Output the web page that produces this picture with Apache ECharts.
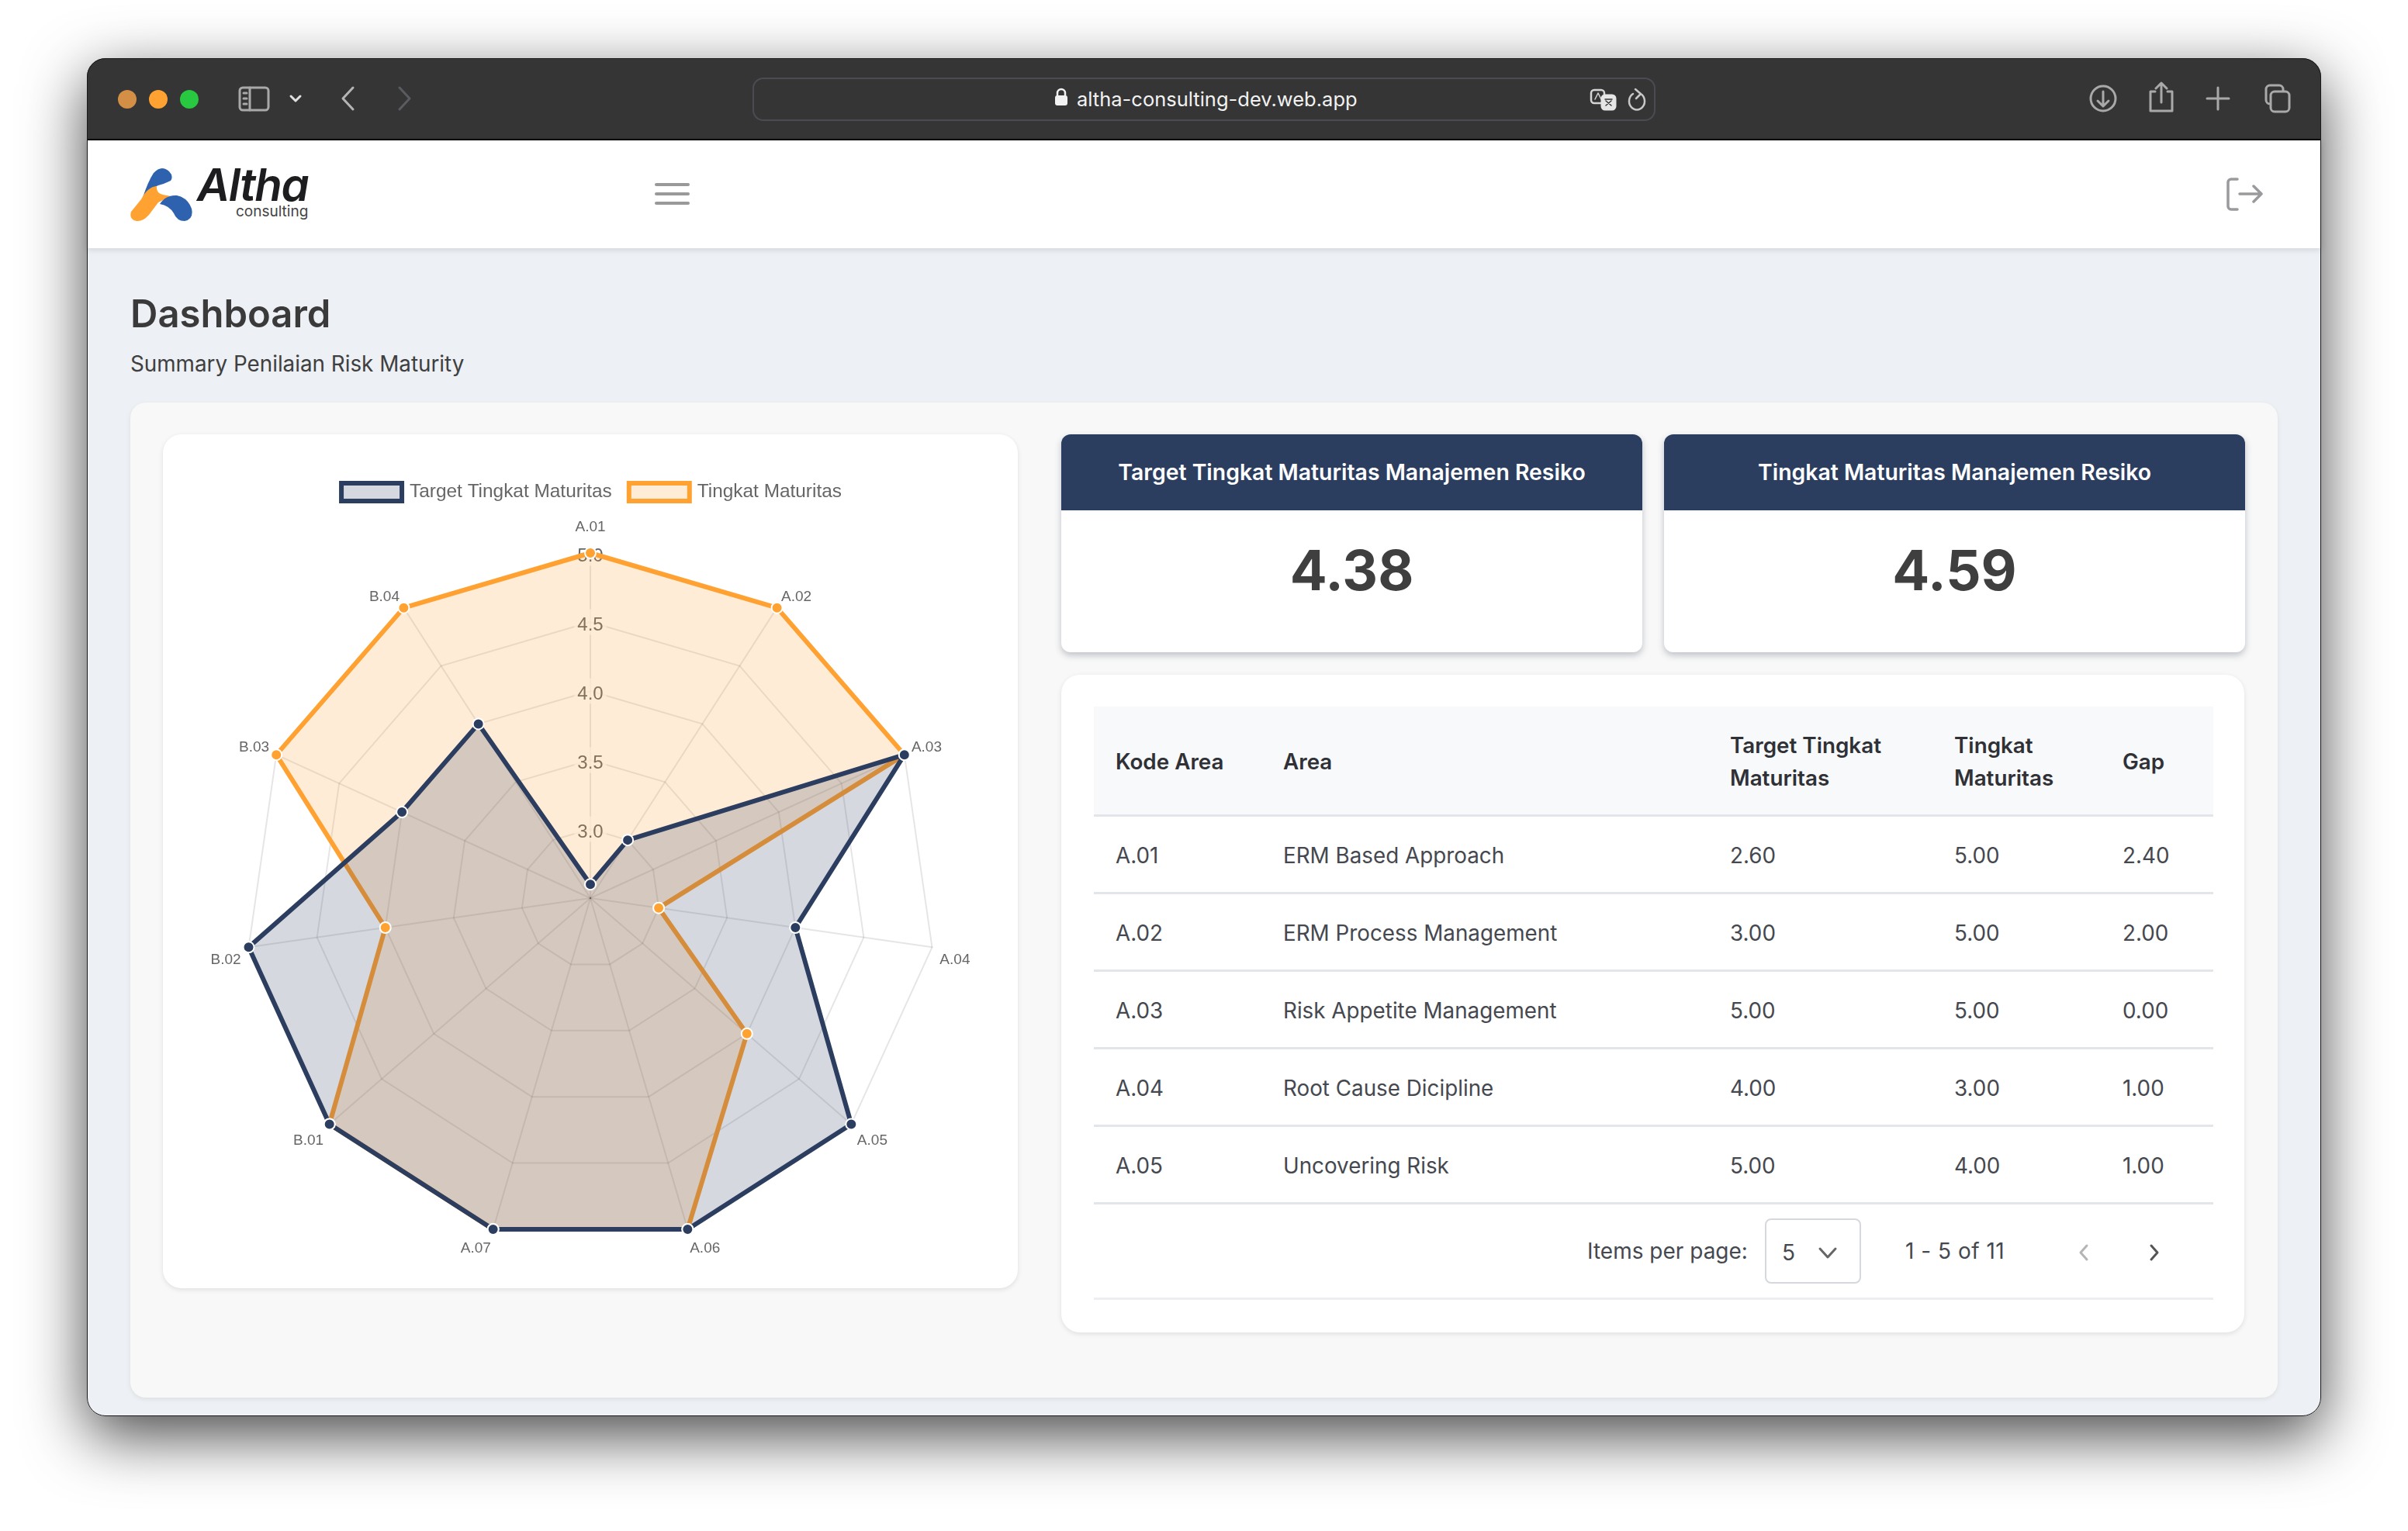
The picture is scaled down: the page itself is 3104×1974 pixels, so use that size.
<!DOCTYPE html>
<html>
<head>
<meta charset="utf-8">
<title>Dashboard</title>
<script src="https://cdn.jsdelivr.net/npm/echarts@6/dist/echarts.min.js"></script>
<style>
    * { box-sizing: border-box; }
    html, body { margin: 0; width: 3104px; height: 1974px; background: #fff; overflow: hidden; font-family: Inter, sans-serif; color: #3f4254; }
    .abs { position: absolute; }
    /* browser window */
    #win { left: 112px; top: 75px; width: 2880px; height: 1751px; border-radius: 24px; background: #edf0f5; overflow: hidden; box-shadow: 0 25px 80px rgba(0,0,0,.72); }
    #edge { left: 112px; top: 75px; width: 2880px; height: 1751px; border-radius: 24px; border: 1px solid #1a1a1a; }
    #bar { left: 112px; top: 75px; width: 2880px; height: 106px; background: #353535; border-radius: 24px 24px 0 0; border-bottom: 2px solid #000; }
    .dot { width: 24px; height: 24px; top: 116px; border-radius: 50%; }
    #url { left: 970px; top: 100px; width: 1164px; height: 56px; border: 2px solid #4a4c52; border-radius: 14px; }
    #urltext { left: 1388px; top: 108px; font-size: 25.5px; line-height: 40px; color: #f2f2f2; }
    #nav { left: 112px; top: 181px; width: 2880px; height: 139px; background: #fff; box-shadow: 0 2px 8px rgba(0,0,0,.12); }
    /* heading */
    #title { left: 168px; top: 373px; font-size: 49px; line-height: 64px; font-weight: 600; color: #3a3a3a; }
    #subtitle { left: 168px; top: 449px; font-size: 27.8px; line-height: 40px; color: #3f3f3f; }
    /* panels */
    #panel { left: 168px; top: 519px; width: 2768px; height: 1283px; background: #f8f8f8; border-radius: 20px; box-shadow: 0 2px 6px rgba(0,0,0,.08); }
    #radar { left: 210px; top: 560px; width: 1102px; height: 1101px; background: #fff; border-radius: 24px; box-shadow: 0 2px 6px rgba(0,0,0,.1); }
    .kpi { top: 560px; width: 749px; height: 281px; background: #fff; border-radius: 12px; box-shadow: 0 4px 8px rgba(60,70,90,.3); overflow: hidden; }
    .kpi .head { height: 98px; background: #2c3e60; color: #fff; font-size: 28.4px; font-weight: 600; line-height: 98px; text-align: center; }
    .kpi .num { font-size: 71px; font-weight: 700; line-height: 155px; text-align: center; color: #3f3f3f; }
    #tablecard { left: 1368px; top: 870px; width: 1525px; height: 848px; background: #fff; border-radius: 24px; box-shadow: 0 2px 6px rgba(0,0,0,.1); }
    table { left: 1410px; top: 911px; width: 1443px; border-collapse: collapse; table-layout: fixed; font-size: 27.8px; color: #45484f; }
    th { height: 140px; background: #f8f9fb; text-align: left; font-weight: 600; line-height: 42px; padding: 3px 0 0 28px; color: #2f3136; border-bottom: 3px solid #e2e5ea; }
    td { height: 100px; padding: 3px 0 0 28px; border-bottom: 3px solid #e2e5ea; }
    .pg { font-size: 28px; line-height: 40px; color: #45484f; }
    #select { left: 2275px; top: 1571px; width: 124px; height: 84px; border: 2px solid #d5d8de; border-radius: 8px; }
    #pgline { left: 1410px; top: 1673px; width: 1443px; height: 3px; background: #eceef1; }
</style>
</head>
<body>
<div id="win" class="abs"></div>
<div id="bar" class="abs"></div>
<div id="nav" class="abs"></div>
<div class="abs dot" style="left:152px;background:#d48f46"></div>
<div class="abs dot" style="left:192px;background:#ffa232"></div>
<div class="abs dot" style="left:232px;background:#28c840"></div>
<div id="url" class="abs"></div>
<div id="urltext" class="abs">altha-consulting-dev.web.app</div>
<!-- toolbar icons -->
<svg class="abs" style="left:0;top:0" width="3104" height="320" fill="none" stroke="#a9a9a9" stroke-width="3" stroke-linecap="round" stroke-linejoin="round">
    <rect x="309" y="113" width="37" height="29" rx="4"/>
    <path d="M322 113V142M314 120h4M314 127h4M314 134h4"/>
    <path d="M375 124l6 6 6-6" stroke="#e0e0e0"/>
    <path d="M455 113l-13 14 13 14" stroke="#b5b5b5"/>
    <path d="M515 113l13 14-13 14" stroke="#5a5c62"/>
    <path d="M1363 124v-4a5 5 0 0 1 10 0v4" stroke="#f2f2f2" stroke-width="2.5"/>
    <rect x="1361" y="124" width="14" height="11" rx="2" fill="#f2f2f2" stroke="#f2f2f2" stroke-width="2"/>
    <rect x="2051" y="116" width="17" height="17" rx="4" fill="#353535" stroke="#d5d5d5" stroke-width="2.5"/>
    <path d="M2056 128l4-8 4 8" stroke="#d5d5d5" stroke-width="1.5"/>
    <rect x="2065" y="123" width="17" height="18" rx="4" fill="#e6e6e6" stroke="#e6e6e6"/>
    <path d="M2069 128h9M2070 136l7-6M2077 136l-7-6" stroke="#353535" stroke-width="1.5"/>
    <path d="M2115 121a10 11 0 1 1-10 0M2108 115l7 6-6 6" stroke="#c8c8c8" stroke-width="2.5"/>
    <circle cx="2711" cy="127" r="16"/>
    <path d="M2711 118v18M2704 130l7 7 7-7"/>
    <path d="M2778 118h-6v25h28v-25h-6M2786 108v24M2779 114l7-7 7 7"/>
    <path d="M2859 113v28M2845 127h28"/>
    <rect x="2921" y="110" width="22" height="24" rx="5"/>
    <rect x="2927" y="118" width="24" height="26" rx="5" fill="#353535"/>
    <!-- nav -->
    <path d="M846 238h41M846 250h41M846 262h41" stroke="#999" stroke-width="4"/>
    <path d="M2884 231h-8a4 4 0 0 0-4 4v31a4 4 0 0 0 4 4h8M2887 250h28M2905 240l10 10-10 10" stroke="#9a9a9e" stroke-width="3.5"/>
</svg>
<svg class="abs" style="left:168px;top:215px" width="80" height="72" viewBox="0 0 80 72">
    <path d="M30 8Q40-3 50 6 56 12 52 18 44 22 36 24 24 28 14 46 22 20 30 8Z" fill="#2e62ae"/>
    <path d="M34 25Q22 26 14 42L1 58Q-2 68 8 70 16 71 24 62L36 46Q44 42 52 38L42 36Q33 34 34 25Z" fill="#ffa232"/>
    <path d="M38 48Q46 36 60 37 74 40 79 54 82 68 70 70 60 70 56 60 50 50 38 48Z" fill="#2e62ae"/>
</svg>
<div class="abs" style="left:254px;top:210px;font-size:58px;line-height:56px;font-weight:600;font-style:italic;color:#1d1d1f;letter-spacing:-1.5px">Altha</div>
<div class="abs" style="left:304px;top:266px;font-size:19px;line-height:14px;color:#444">consulting</div>

<div id="title" class="abs">Dashboard</div>
<div id="subtitle" class="abs">Summary Penilaian Risk Maturity</div>
<div id="panel" class="abs"></div>
<div id="radar" class="abs"></div>

<div class="abs kpi" style="left:1368px">
    <div class="head">Target Tingkat Maturitas Manajemen Resiko</div>
    <div class="num" id="kpiTarget"></div>
</div>
<div class="abs kpi" style="left:2145px">
    <div class="head">Tingkat Maturitas Manajemen Resiko</div>
    <div class="num" id="kpiActual"></div>
</div>

<div id="tablecard" class="abs"></div>
<table class="abs">
    <colgroup><col style="width:216px"><col style="width:576px"><col style="width:289px"><col style="width:217px"><col style="width:145px"></colgroup>
    <thead><tr id="thead"></tr></thead>
    <tbody id="tbody"></tbody>
</table>

<div class="abs pg" style="left:2046px;top:1593px">Items per page:</div>
<div id="select" class="abs"></div>
<div class="abs pg" style="left:2297px;top:1595px">5</div>
<div class="abs pg" style="left:2456px;top:1593px;letter-spacing:.5px">1 - 5 of 11</div>
<svg class="abs" style="left:0;top:1560px" width="3104" height="100" fill="none" stroke-width="3" stroke-linecap="round" stroke-linejoin="round">
    <path d="M2346 50l10 11 10-11" stroke="#666"/>
    <path d="M2690 46l-8 9 8 9" stroke="#b5b5b5"/>
    <path d="M2773 46l8 9-8 9" stroke="#555"/>
</svg>
<div id="pgline" class="abs"></div>
<div id="edge" class="abs"></div>

<script>
// data
var radarCategories = ['A.01','A.02','A.03','A.04','A.05','A.06','A.07','B.01','B.02','B.03','B.04'];
var targetValues = [2.6,3,5,4,5,5,5,5,5,4,4];
var actualValues = [5,5,5,3,4,5,5,5,4,5,5];
var tableHeaders = ['Kode Area','Area','Target Tingkat<br>Maturitas','Tingkat<br>Maturitas','Gap'];
var tableCodes = ['A.01','A.02','A.03','A.04','A.05'];
var tableAreas = ['ERM Based Approach','ERM Process Management','Risk Appetite Management','Root Cause Dicipline','Uncovering Risk'];
var tableTargets = ['2.60','3.00','5.00','4.00','5.00'];
var tableActuals = ['5.00','5.00','5.00','3.00','4.00'];
var tableGaps = ['2.40','2.00','0.00','1.00','1.00'];
var kpiTarget = '4.38';
var kpiActual = '4.59';

var NAVY = '#2c3e60';
var ORANGE = '#ffa232';

document.getElementById('kpiTarget').textContent = kpiTarget;
document.getElementById('kpiActual').textContent = kpiActual;
document.getElementById('thead').innerHTML = tableHeaders.map(function (h) { return '<th>' + h + '</th>'; }).join('');
document.getElementById('tbody').innerHTML = tableCodes.map(function (c, i) {
    return '<tr><td>' + c + '</td><td>' + tableAreas[i] + '</td><td>' + tableTargets[i] + '</td><td>' + tableActuals[i] + '</td><td>' + tableGaps[i] + '</td></tr>';
}).join('');

// echarts lays the spokes out counter-clockwise, the picture runs clockwise,
// so keep the first one on top and walk the rest backwards
function clockwiseOrder(list) {
    return [list[0]].concat(list.slice(1).reverse());
}

var tickStyle = { fontSize: 24, color: '#666', fontFamily: 'Liberation Sans' };
var nameStyle = { fontSize: 19, color: '#666', fontFamily: 'Liberation Sans' };

var indicators = clockwiseOrder(radarCategories).map(function (name, i) {
    var item = { name: name, min: 2.5, max: 5 };
    // only the first spoke carries the scale labels
    if (i === 0) {
        item.axisLabel = {
            show: true,
            showMinLabel: false,
            margin: 0,
            align: 'center',
            verticalAlign: 'middle',
            backgroundColor: 'rgba(255,255,255,.75)',
            padding: [0, 4],
            formatter: function (v) { return '{t|' + v.toFixed(1) + '}'; },
            rich: { t: Object.assign({ lineHeight: 33, verticalAlign: 'bottom' }, tickStyle) }
        };
    }
    return item;
});

// which way each spoke name is pushed away from the polygon
function nameTag(name) {
    if (name === 'A.01') return 'top';
    return ['A.02', 'A.03', 'B.03', 'B.04'].indexOf(name) >= 0 ? 'up' : 'down';
}

function radarSeries(name, values, color) {
    return {
        type: 'radar',
        name: name,
        symbol: 'circle',
        symbolSize: 14,
        itemStyle: { color: color, borderColor: '#fff', borderWidth: 2 },
        lineStyle: { color: color, width: 6 },
        areaStyle: { color: color, opacity: 0.2 },
        data: [{ value: clockwiseOrder(values) }]
    };
}

var myChart = echarts.init(document.getElementById('radar'), null, { renderer: 'canvas' });
myChart.setOption({
    animation: false,
    legend: {
        top: 55,
        left: 'center',
        icon: 'rect',
        itemWidth: 78,
        itemHeight: 23,
        itemGap: 19,
        textStyle: { fontSize: 24.4, color: '#666', fontFamily: 'Liberation Sans', padding: [0, 0, 0, 5] },
        data: [
            { name: 'Target Tingkat Maturitas', itemStyle: { color: 'rgba(44,62,96,.2)', borderColor: NAVY, borderWidth: 6 } },
            { name: 'Tingkat Maturitas', itemStyle: { color: 'rgba(255,162,50,.2)', borderColor: ORANGE, borderWidth: 6 } }
        ]
    },
    radar: {
        center: [551, 598],
        radius: 445,
        startAngle: 90,
        splitNumber: 5,
        nameGap: 10,
        axisName: {
            color: '#666',
            fontSize: 19,
            fontFamily: 'Liberation Sans',
            formatter: function (v) {
                return '{' + nameTag(v) + '|' + v + '}';
            },
            rich: {
                top: Object.assign({ padding: [0, 0, 14, 0] }, nameStyle),
                up: Object.assign({ padding: [0, 0, 11, 0] }, nameStyle),
                down: Object.assign({ padding: [30, 0, 0, 0] }, nameStyle)
            }
        },
        axisLine: { lineStyle: { color: 'rgba(0,0,0,.1)', width: 2 } },
        splitLine: { lineStyle: { color: 'rgba(0,0,0,.1)', width: 2 } },
        splitArea: { show: false },
        axisTick: { show: false },
        indicator: indicators
    },
    // the orange series goes first so the navy one paints over it
    series: [
        radarSeries('Tingkat Maturitas', actualValues, ORANGE),
        radarSeries('Target Tingkat Maturitas', targetValues, NAVY)
    ]
});
</script>
</body>
</html>
